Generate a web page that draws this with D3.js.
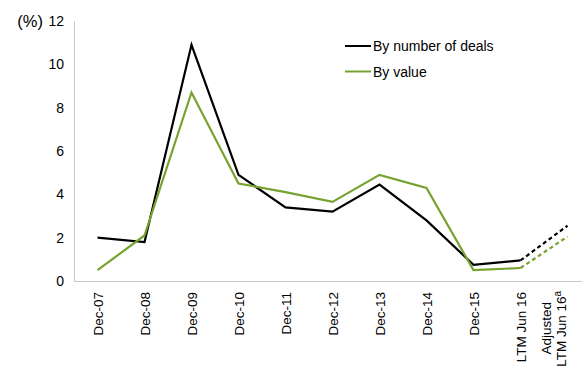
<!DOCTYPE html>
<html>
<head>
<meta charset="utf-8">
<script src="https://cdn.jsdelivr.net/npm/d3@7"></script>
<style>
  html, body { margin: 0; padding: 0; background: #fff; }
  svg { display: block; font-family: "Liberation Sans", Arial, sans-serif; }
</style>
</head>
<body>
<svg id="chart" width="582" height="367"></svg>
<script>
// Period labels along the x axis
const categories = ["Dec-07", "Dec-08", "Dec-09", "Dec-10", "Dec-11", "Dec-12",
  "Dec-13", "Dec-14", "Dec-15", "LTM Jun 16", "Adjusted LTM Jun 16"];

// Rates (%) by number of deals and by value
const byDeals = [2.0, 1.8, 10.9, 4.9, 3.4, 3.2, 4.45, 2.8, 0.75, 0.95, 2.55];
const byValue = [0.5, 2.1, 8.7, 4.5, 4.1, 3.65, 4.9, 4.3, 0.5, 0.6, 2.05];

const yTicks = [0, 2, 4, 6, 8, 10, 12];

const seriesNames = ["By number of deals", "By value"];
const seriesColors = ["#000000", "#77a22f"];

const svg = d3.select("#chart");
const plotLeft = 74, plotTop = 21, plotBottom = 281, step = 47;

const x = d3.scalePoint()
  .domain(categories)
  .range([plotLeft + step / 2, plotLeft + step / 2 + step * (categories.length - 1)]);

const y = d3.scaleLinear().domain([0, 12]).range([plotBottom, plotTop]);

// Y axis
const yAxis = svg.append("g")
  .attr("transform", `translate(${plotLeft},0)`)
  .call(d3.axisLeft(y).tickValues(yTicks).tickSize(0).tickPadding(10));
yAxis.select(".domain").attr("stroke", "#c8c8c8").attr("stroke-width", 1);
yAxis.selectAll("text").attr("font-size", 14).attr("fill", "#000")
  .attr("font-family", "Liberation Sans, Arial, sans-serif");

// X axis baseline across the plot
svg.append("line")
  .attr("x1", plotLeft).attr("x2", 582)
  .attr("y1", y(0) + 0.5).attr("y2", y(0) + 0.5)
  .attr("stroke", "#c8c8c8").attr("stroke-width", 1);

// X axis labels, rotated
const xAxis = svg.append("g")
  .attr("transform", `translate(0,${y(0)})`)
  .call(d3.axisBottom(x).tickSize(0));
xAxis.select(".domain").remove();
xAxis.selectAll("text")
  .attr("font-size", 13.5).attr("fill", "#000")
  .attr("font-family", "Liberation Sans, Arial, sans-serif")
  .attr("transform", "rotate(-90)")
  .attr("text-anchor", "end")
  .attr("x", -11).attr("y", 0).attr("dy", "0.35em")
  .each(function (d) {
    if (d === "Adjusted LTM Jun 16") {
      const t = d3.select(this).text(null).attr("dy", null);
      t.append("tspan").attr("x", -21).attr("dy", -17).text("Adjusted");
      const l2 = t.append("tspan").attr("x", -10).attr("dy", 15);
      l2.append("tspan").text("LTM Jun 16");
      l2.append("tspan").attr("font-size", 10).attr("dy", -5).text("a");
    }
  });

// Unit label
svg.append("text")
  .attr("x", 43).attr("y", 27)
  .attr("text-anchor", "end")
  .attr("font-size", 16.5)
  .text("(%)");

// Solid segments through LTM Jun 16, dashed extension to the adjusted figure
const solidN = categories.length - 1;
const line = d3.line().x(d => x(d.c)).y(d => y(d.v));

[byDeals, byValue].forEach((vals, i) => {
  const pts = categories.map((c, k) => ({ c, v: vals[k] }));
  svg.append("path")
    .datum(pts.slice(0, solidN))
    .attr("d", line)
    .attr("fill", "none")
    .attr("stroke", seriesColors[i])
    .attr("stroke-width", 2.2)
    .attr("stroke-linejoin", "miter");
  svg.append("path")
    .datum(pts.slice(solidN - 1))
    .attr("d", line)
    .attr("fill", "none")
    .attr("stroke", seriesColors[i])
    .attr("stroke-width", 2.2)
    .attr("stroke-dasharray", "4,3");
});

// Legend
const legend = svg.append("g");
seriesNames.forEach((name, i) => {
  const yy = 46 + i * 25.5;
  legend.append("line")
    .attr("x1", 345).attr("x2", 371)
    .attr("y1", yy).attr("y2", yy)
    .attr("stroke", seriesColors[i]).attr("stroke-width", 2);
  legend.append("text")
    .attr("x", 373).attr("y", yy + 5)
    .attr("font-size", 14)
    .text(name);
});
</script>
</body>
</html>
